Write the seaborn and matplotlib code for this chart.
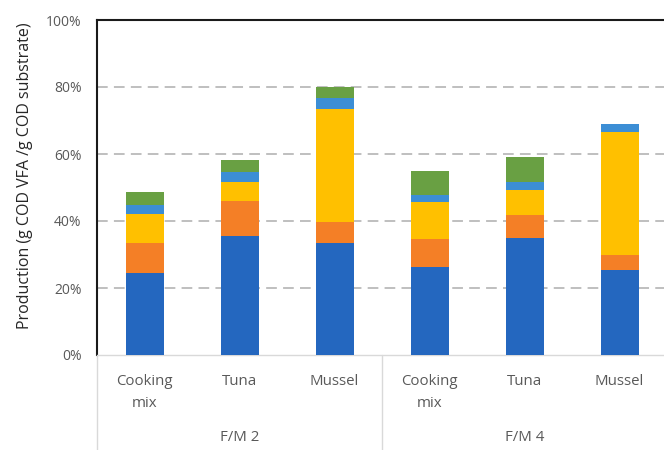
import matplotlib
matplotlib.use("Agg")
import matplotlib.pyplot as plt
from matplotlib.lines import Line2D
import numpy as np
import pandas as pd
import seaborn as sns

# Samples, in plotting order (two F/M ratios x three substrates)
groups = ["F/M 2", "F/M 4"]
substrates = ["Cooking\nmix", "Tuna", "Mussel"]
sample_keys = ["FM2 cooking", "FM2 tuna", "FM2 mussel",
               "FM4 cooking", "FM4 tuna", "FM4 mussel"]

# VFA production per fraction, % of substrate COD (stack order bottom -> top)
blue_part = [24.5, 35.5, 33.3, 26.4, 34.9, 25.3]
orange_part = [9.0, 10.5, 6.5, 8.2, 6.9, 4.6]
yellow_part = [8.7, 5.7, 33.5, 11.1, 7.5, 36.7]
lightblue_part = [2.6, 2.8, 3.5, 2.1, 2.2, 2.3]
green_part = [3.9, 3.8, 3.3, 7.2, 7.5, 0.0]

y_ticks = [0, 20, 40, 60, 80, 100]
y_label = "Production (g COD VFA /g COD substrate)"

layers = [blue_part, orange_part, yellow_part, lightblue_part, green_part]
colors = ["#2467BF", "#F47F26", "#FFC000", "#3C8ED5", "#69A043"]

sns.set_theme(style="white")
plt.rcParams["font.family"] = ["Open Sans", "DejaVu Sans"]
text_col = "#595959"

fig = plt.figure(figsize=(6.64, 4.5), dpi=100)
ax = fig.add_axes([97 / 664, 1 - 355 / 450, 570 / 664, 335 / 450])

# cumulative heights; draw tallest first so lower layers sit on top
cum = np.cumsum(np.array(layers, dtype=float), axis=0)
for i in range(len(layers) - 1, -1, -1):
    df = pd.DataFrame({"sample": sample_keys, "value": cum[i]})
    sns.barplot(data=df, x="sample", y="value", order=sample_keys,
                color=colors[i], saturation=1, width=0.4,
                linewidth=0, edgecolor="none", ax=ax, zorder=3)

ax.set_xlim(-0.5, 5.5)
ax.set_ylim(0, 100)
ax.set_yticks(y_ticks)
ax.set_yticklabels([f"{t}%" for t in y_ticks], fontsize=10, color=text_col)
ax.tick_params(axis="y", length=0, pad=11)
ax.set_xticks(range(len(sample_keys)))
ax.set_xticklabels(substrates * 2, fontsize=10.8, color=text_col,
                   linespacing=1.6)
ax.tick_params(axis="x", length=0, pad=14)
ax.set_xlabel("")
ax.set_ylabel(y_label, fontsize=11.5, color="#262626")
ax.yaxis.set_label_coords(-0.112, 0.535)

for t in y_ticks[1:-1]:
    ax.axhline(t, color="#BFBFBF", lw=1.4, dashes=(5.5, 3.2), zorder=1)

for side in ["left", "top", "right"]:
    ax.spines[side].set_color("#1a1a1a")
    ax.spines[side].set_linewidth(1.5)
ax.spines["bottom"].set_color("#D9D9D9")
ax.spines["bottom"].set_linewidth(1.0)

# group separators under the category axis
for xf in [0.0, 0.5, 1.0]:
    ax.add_line(Line2D([xf, xf], [0, -0.29], transform=ax.transAxes,
                       color="#D9D9D9", lw=1.0, clip_on=False))
for xf, g in zip([0.25, 0.75], groups):
    ax.text(xf, -0.245, g, transform=ax.transAxes, ha="center", va="center",
            fontsize=10.8, color=text_col)

fig.savefig("out.png", dpi=100)
